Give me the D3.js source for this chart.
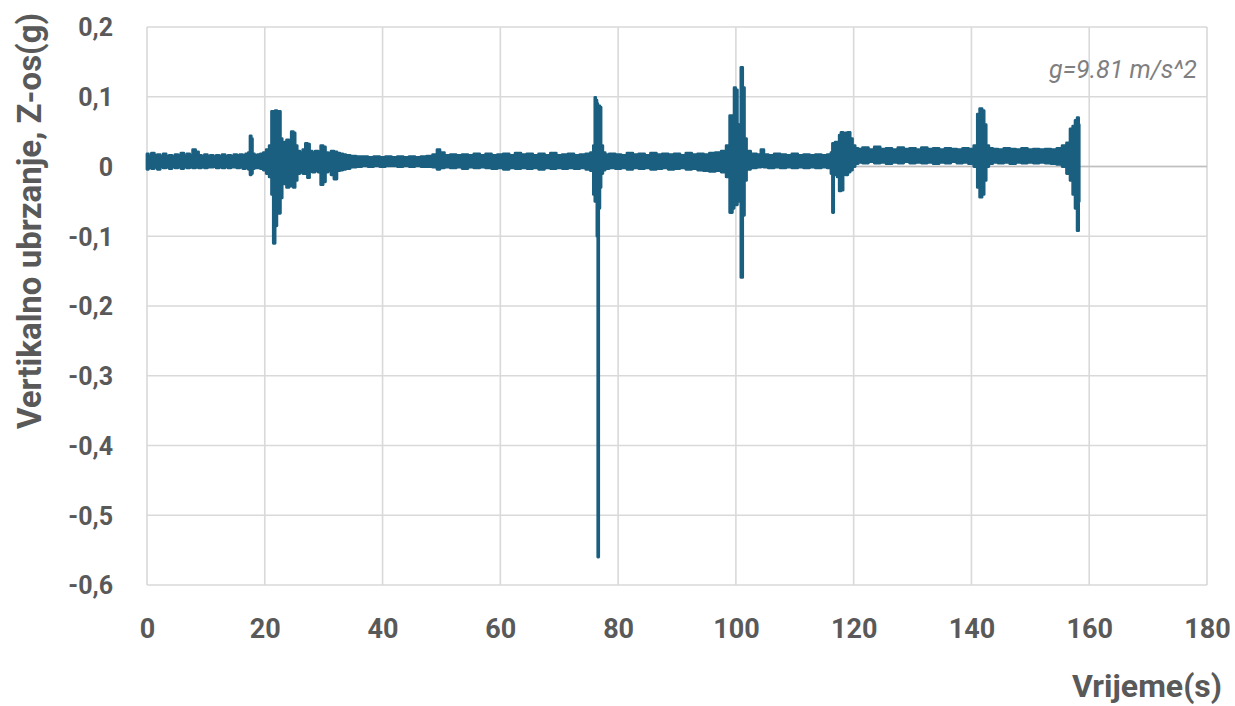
<!DOCTYPE html>
<html>
<head>
<meta charset="utf-8">
<script src="https://cdn.jsdelivr.net/npm/d3@7"></script>
<style>
  html, body { margin: 0; padding: 0; background: #ffffff; }
  svg { display: block; }
</style>
</head>
<body>
<svg id="chart" width="1235" height="706"></svg>
<script>
// ---- Data ----
// Time stamps (s) of the signal envelope
const sampleTime = [
  0,0.5,1,1.5,2,2.5,3,3.5,4,4.5,5,5.5,6,6.5,7,7.5,8,8.5,9,9.5,
  10,10.5,11,11.5,12,12.5,13,13.5,14,14.5,15,15.5,16,16.5,17,17.4,17.6,17.8,18,18.5,
  19,19.5,20,20.5,21,21.3,21.6,21.9,22.2,22.5,22.8,23.1,23.5,23.9,24.3,24.7,25,25.3,25.7,26.2,
  26.7,27.1,27.4,27.8,28.3,28.8,29.3,29.7,30.1,30.5,31,31.5,32,32.5,33,33.5,34,35,36,37,
  38,39,40,41,42,43,44,45,46,47,48,49,49.5,50,51,52,53,54,55,56,
  57,58,59,60,61,62,63,64,65,66,67,68,69,70,71,72,73,74,75,75.6,
  76,76.1,76.3,76.5,76.6,76.8,77,77.2,77.6,78,79,80,81,82,83,84,85,86,87,88,
  89,90,91,92,93,94,95,96,97,98,98.7,99.2,99.6,99.8,100.1,100.4,100.7,101,101.3,101.6,
  102,103,104,104.5,105,106,107,108,109,110,111,112,113,114,115,116,116.3,116.5,116.7,117,
  117.4,117.7,118,118.4,118.8,119.2,119.6,120,120.5,121,122,123,124,125,126,127,128,129,130,131,
  132,133,134,135,136,137,138,139,140,140.8,141.2,141.6,142,142.3,142.7,143.2,144,145,146,147,
  148,149,150,151,152,153,154,155,155.8,156.5,157,157.4,157.8,158.1,158.3
];
// Upper envelope of the vertical acceleration (g)
const accelHigh = [
  0.018,0.015,0.019,0.016,0.017,0.014,0.018,0.015,0.016,0.014,0.017,0.016,0.019,0.015,0.018,0.016,0.024,0.021,0.016,0.015,
  0.017,0.015,0.016,0.014,0.016,0.015,0.017,0.015,0.016,0.015,0.017,0.016,0.017,0.016,0.018,0.020,0.044,0.040,0.018,0.016,
  0.017,0.018,0.020,0.024,0.030,0.079,0.075,0.080,0.078,0.079,0.040,0.028,0.035,0.038,0.034,0.050,0.048,0.030,0.022,0.020,
  0.024,0.033,0.032,0.022,0.020,0.022,0.021,0.030,0.028,0.020,0.019,0.022,0.021,0.019,0.018,0.017,0.016,0.015,0.014,0.014,
  0.013,0.014,0.013,0.014,0.013,0.014,0.013,0.014,0.013,0.014,0.015,0.017,0.024,0.020,0.016,0.017,0.016,0.017,0.016,0.018,
  0.016,0.018,0.016,0.017,0.018,0.016,0.019,0.017,0.018,0.016,0.018,0.016,0.019,0.016,0.017,0.018,0.016,0.017,0.018,0.020,
  0.030,0.099,0.095,0.090,0.080,0.087,0.085,0.030,0.020,0.017,0.018,0.017,0.016,0.019,0.017,0.018,0.016,0.019,0.017,0.018,
  0.017,0.018,0.016,0.019,0.017,0.018,0.017,0.019,0.020,0.022,0.030,0.073,0.070,0.113,0.110,0.050,0.060,0.142,0.113,0.040,
  0.022,0.018,0.017,0.024,0.017,0.016,0.018,0.017,0.016,0.018,0.016,0.017,0.016,0.017,0.016,0.017,0.020,0.033,0.030,0.035,
  0.032,0.045,0.049,0.042,0.048,0.049,0.040,0.030,0.026,0.025,0.027,0.024,0.028,0.025,0.026,0.024,0.027,0.025,0.026,0.024,
  0.027,0.025,0.026,0.024,0.026,0.025,0.024,0.026,0.025,0.030,0.075,0.083,0.080,0.060,0.030,0.026,0.025,0.024,0.026,0.025,
  0.024,0.026,0.024,0.025,0.024,0.025,0.024,0.026,0.030,0.034,0.054,0.058,0.066,0.070,0.060
];
// Lower envelope of the vertical acceleration (g)
const accelLow = [
  -0.004,-0.002,-0.003,-0.001,-0.004,0.000,-0.002,-0.001,-0.003,0.000,-0.002,-0.001,-0.003,0.000,-0.002,-0.001,-0.002,-0.001,-0.002,0.000,
  -0.002,-0.001,-0.001,0.000,-0.002,-0.001,-0.002,0.000,-0.002,-0.001,-0.001,-0.002,-0.001,-0.003,-0.002,-0.004,-0.012,-0.010,-0.003,-0.002,
  -0.002,-0.003,-0.005,-0.010,-0.015,-0.040,-0.110,-0.085,-0.060,-0.067,-0.045,-0.020,-0.025,-0.030,-0.020,-0.028,-0.030,-0.020,-0.010,-0.008,
  -0.010,-0.010,-0.016,-0.006,-0.008,-0.006,-0.008,-0.026,-0.022,-0.008,-0.006,-0.012,-0.018,-0.006,-0.005,-0.004,-0.003,-0.001,0.000,0.001,
  0.000,0.001,0.000,0.001,0.001,0.000,0.001,0.000,0.001,0.000,0.000,-0.001,-0.004,-0.002,-0.001,-0.002,-0.001,-0.003,-0.001,-0.002,
  -0.001,-0.002,-0.003,-0.002,-0.004,-0.002,-0.003,-0.002,-0.003,-0.002,-0.004,-0.002,-0.003,-0.002,-0.003,-0.002,-0.003,-0.002,-0.004,-0.006,
  -0.040,-0.050,-0.045,-0.100,-0.560,-0.060,-0.030,-0.010,-0.005,-0.003,-0.002,-0.003,-0.002,-0.004,-0.002,-0.003,-0.002,-0.004,-0.003,-0.002,
  -0.004,-0.003,-0.002,-0.004,-0.003,-0.005,-0.006,-0.007,-0.006,-0.008,-0.015,-0.066,-0.060,-0.050,-0.055,-0.040,-0.050,-0.159,-0.070,-0.020,
  -0.004,-0.002,-0.001,0.000,-0.001,-0.002,-0.001,-0.002,-0.001,-0.002,-0.001,-0.002,-0.001,-0.002,-0.001,-0.002,-0.010,-0.066,-0.012,-0.010,
  -0.015,-0.035,-0.034,-0.010,-0.012,-0.008,-0.005,0.000,0.004,0.006,0.005,0.007,0.005,0.006,0.004,0.006,0.005,0.007,0.005,0.006,
  0.005,0.006,0.004,0.006,0.005,0.007,0.005,0.006,0.004,0.000,-0.030,-0.044,-0.040,-0.020,0.000,0.004,0.006,0.005,0.006,0.004,
  0.006,0.005,0.006,0.005,0.006,0.005,0.004,0.003,0.000,-0.010,-0.020,-0.040,-0.060,-0.092,-0.050
];
const xTickValues = [0, 20, 40, 60, 80, 100, 120, 140, 160, 180];
const yTickValues = [0.2, 0.1, 0, -0.1, -0.2, -0.3, -0.4, -0.5, -0.6];
const xTitle = "Vrijeme(s)";
const yTitle = "Vertikalno ubrzanje, Z-os(g)";
const noteText = "g=9.81 m/s^2";

// ---- Layout ----
const plotLeft = 147, plotRight = 1207, plotTop = 27, plotBottom = 585;
const lineColor = "#1b5f80";
const textColor = "#595959";
const gridColor = "#d9d9d9";

const svg = d3.select("#chart");
const x = d3.scaleLinear().domain([0, 180]).range([plotLeft, plotRight]);
const y = d3.scaleLinear().domain([-0.6, 0.2]).range([plotBottom, plotTop]);

const fmt = v => {
  const r = Math.round(v * 10) / 10;
  if (r === 0) return "0";
  return (r < 0 ? "-" : "") + Math.abs(r).toFixed(1).replace(".", ",");
};

// Gridlines
svg.append("g").selectAll("line").data(yTickValues).join("line")
  .attr("x1", plotLeft).attr("x2", plotRight)
  .attr("y1", d => y(d)).attr("y2", d => y(d))
  .attr("stroke", gridColor)
  .attr("stroke-width", 1.6);
svg.append("g").selectAll("line").data(xTickValues).join("line")
  .attr("x1", d => x(d)).attr("x2", d => x(d))
  .attr("y1", plotTop).attr("y2", plotBottom)
  .attr("stroke", gridColor)
  .attr("stroke-width", 1.6);
// horizontal axis line at zero
svg.append("line")
  .attr("x1", plotLeft).attr("x2", plotRight)
  .attr("y1", y(0)).attr("y2", y(0))
  .attr("stroke", "#bfbfbf").attr("stroke-width", 1.6);

// Axes (labels only, via d3 axis generators)
const yAxis = d3.axisLeft(y).tickValues(yTickValues).tickFormat(fmt).tickSize(0).tickPadding(0);
const gy = svg.append("g").attr("transform", `translate(${plotLeft - 34},0)`).call(yAxis);
gy.select(".domain").remove();
gy.selectAll("text")
  .attr("fill", textColor)
  .style("font-family", "Roboto, 'Liberation Sans', sans-serif")
  .style("font-weight", "700")
  .style("font-size", "25px")
  .attr("dy", "0.35em");

const xAxis = d3.axisBottom(x).tickValues(xTickValues).tickFormat(d3.format("d")).tickSize(0).tickPadding(0);
const gx = svg.append("g").attr("transform", `translate(0,${plotBottom + 34})`).call(xAxis);
gx.select(".domain").remove();
gx.selectAll("text")
  .attr("fill", textColor)
  .style("font-family", "Roboto, 'Liberation Sans', sans-serif")
  .style("font-weight", "700")
  .style("font-size", "27px")
  .attr("dy", "0.71em");

// Signal (dense noisy trace drawn as its min/max envelope)
const pts = sampleTime.map((t, i) => ({ t, hi: accelHigh[i], lo: accelLow[i] }));
const area = d3.area()
  .curve(d3.curveStep)
  .x(d => x(d.t))
  .y0(d => y(d.lo))
  .y1(d => y(d.hi));
svg.append("path")
  .datum(pts)
  .attr("d", area)
  .attr("fill", lineColor)
  .attr("stroke", lineColor)
  .attr("stroke-width", 2.8)
  .attr("stroke-linejoin", "round");

// Titles
svg.append("text")
  .attr("x", 1222).attr("y", 697)
  .attr("text-anchor", "end")
  .attr("fill", textColor)
  .style("font-family", "Roboto, 'Liberation Sans', sans-serif")
  .style("font-weight", "700")
  .style("font-size", "32px")
  .text(xTitle);

svg.append("text")
  .attr("transform", "translate(41,221) rotate(-90)")
  .attr("text-anchor", "middle")
  .attr("fill", textColor)
  .style("font-family", "Roboto, 'Liberation Sans', sans-serif")
  .style("font-weight", "700")
  .style("font-size", "33px")
  .text(yTitle);

svg.append("text")
  .attr("x", 1197).attr("y", 78)
  .attr("text-anchor", "end")
  .attr("fill", "#7f7f7f")
  .style("font-family", "Roboto, 'Liberation Sans', sans-serif")
  .style("font-style", "italic")
  .style("font-size", "25px")
  .text(noteText);
</script>
</body>
</html>
